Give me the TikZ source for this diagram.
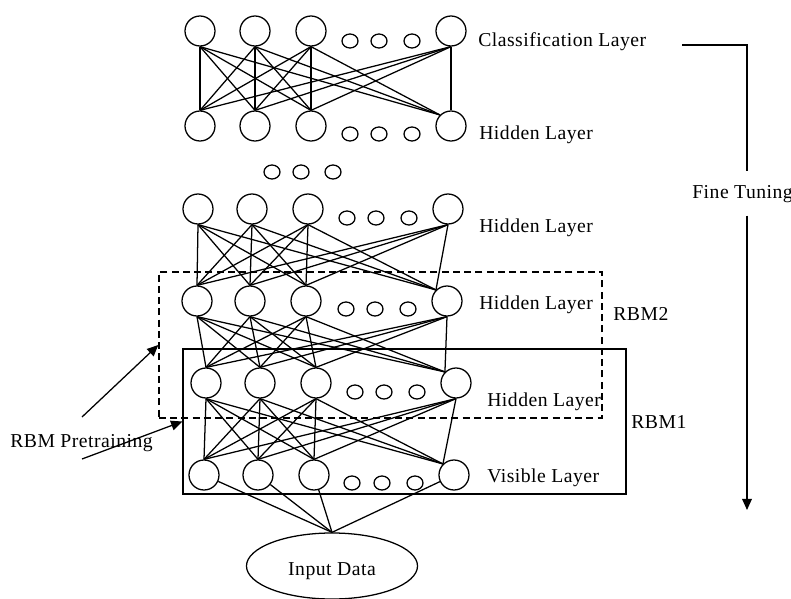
\documentclass[tikz,border=0pt]{standalone}
\usepackage{fontspec}
\setmainfont{Liberation Serif}[LetterSpace=2.5]
\usetikzlibrary{shapes.geometric, arrows.meta, positioning}

\begin{document}
\begin{tikzpicture}[
    x=0.025cm, y=-0.025cm,
    unit/.style={draw, circle, minimum size=0.75cm, inner sep=0pt, line width=0.9pt},
    dot/.style={draw, ellipse, minimum width=0.4cm, minimum height=0.35cm, inner sep=0pt, line width=0.9pt},
    lbl/.style={anchor=base west, inner sep=0pt, font=\fontsize{14}{16}\selectfont},
    link/.style={line width=0.9pt},
    arrow/.style={-{Triangle[length=8pt, width=7pt]}, line width=0.9pt}
]
    \useasboundingbox (0,0) rectangle (791,599);

    % Classification Layer
    \foreach \x [count=\i] in {200,255,311,451}
        \node[unit] (cl\i) at (\x,31) {};
    \foreach \x [count=\i] in {350,379,412}
        \node[dot] (cld\i) at (\x,41) {};

    % Hidden Layers
    \foreach \x [count=\i] in {200,255,311,451}
        \node[unit] (ha\i) at (\x,126) {};
    \foreach \x [count=\i] in {350,379,412}
        \node[dot] (had\i) at (\x,134) {};

    \foreach \x [count=\i] in {272,301,333}
        \node[dot] (gap\i) at (\x,172) {};

    \foreach \x [count=\i] in {198,252,308,448}
        \node[unit] (hb\i) at (\x,209) {};
    \foreach \x [count=\i] in {347,376,409}
        \node[dot] (hbd\i) at (\x,218) {};

    \foreach \x [count=\i] in {197,250,306,447}
        \node[unit] (hc\i) at (\x,301) {};
    \foreach \x [count=\i] in {346,375,408}
        \node[dot] (hcd\i) at (\x,309) {};

    \foreach \x [count=\i] in {206,260,316,456}
        \node[unit] (hd\i) at (\x,383) {};
    \foreach \x [count=\i] in {355,384,417}
        \node[dot] (hdd\i) at (\x,392) {};

    % Visible Layer
    \foreach \x [count=\i] in {204,258,314,454}
        \node[unit] (vi\i) at (\x,475) {};
    \foreach \x [count=\i] in {352,382,415}
        \node[dot] (vid\i) at (\x,483) {};

    % Input
    \node[draw, ellipse, minimum width=4.275cm, minimum height=1.65cm, line width=0.9pt,
          font=\fontsize{14}{16}\selectfont, text height=17pt, text depth=3pt] (in) at (332,566) {Input Data};

    % RBM boxes
    \node[draw, dashed, dash pattern=on 5pt off 3pt, line width=0.9pt, inner sep=0pt,
          minimum width=11.075cm, minimum height=3.65cm] (rbm2) at (380.5,345) {};
    \node[draw, line width=0.9pt, inner sep=0pt,
          minimum width=11.075cm, minimum height=3.625cm] (rbm1) at (404.5,421.5) {};

    % Labels
    \node[lbl] (lcl) at (478,46) {Classification Layer};
    \node[lbl] (lha) at (479,139) {Hidden Layer};
    \node[lbl] (lhb) at (479,232) {Hidden Layer};
    \node[lbl] (lhc) at (479,309) {Hidden Layer};
    \node[lbl] (lhd) at (487,406) {Hidden Layer};
    \node[lbl] (lvi) at (487,482) {Visible Layer};
    \node[lbl] (lrbm2) at (613,320) {RBM2};
    \node[lbl] (lrbm1) at (631,428) {RBM1};
    \node[lbl] (lpre) at (10,447) {RBM Pretraining};
    \node[lbl, inner ysep=0.33cm] (ft) at (692,198) {Fine Tuning};

    % Connections
    \foreach \up/\lo in {cl/ha, hb/hc, hc/hd, hd/vi}{
        \foreach \s in {1,2,3,4}
            \foreach \t in {1,2,3}
                \draw[link] (\up\s.south) -- (\lo\t.north);
        \foreach \s in {1,2,3}
            \draw[link] (\up\s.south) -- (\lo4.north west);
    }
    \draw[link] (cl4.south) -- (ha4.north);
    \draw[link] (hb4.south) -- (hc4.north west);
    \draw[link] (hc4.south) -- (hd4.north west);
    \draw[link] (hd4.south) -- (vi4.north west);

    \foreach \s in {1,2,3,4}
        \draw[link] (vi\s) -- (in.north);

    % Pretraining arrows
    \coordinate (pre1) at (82,417);
    \coordinate (pre2) at (82,459);
    \draw[arrow] (pre1) -- (rbm2.west);
    \draw[arrow] (pre2) -- (rbm1.west);

    % Fine tuning arrow
    \coordinate (ftstart) at (682,45);
    \coordinate (ftcorner) at (747,45);
    \coordinate (ftend) at (747,510);
    \draw[link] (ftstart) -- (ftcorner) -- (ftcorner |- ft.north);
    \draw[arrow] (ftcorner |- ft.south) -- (ftend);
\end{tikzpicture}
\end{document}
